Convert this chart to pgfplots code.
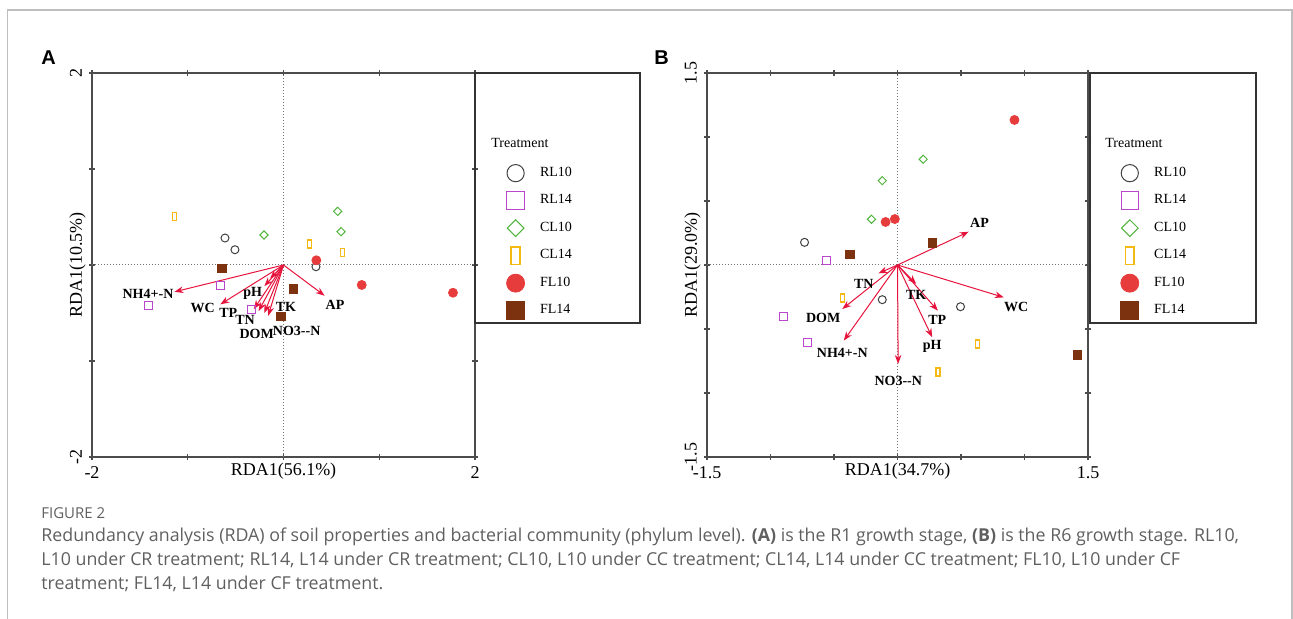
\documentclass[border=0pt]{standalone}
\usepackage{fontspec}
\setmainfont{Liberation Serif}
\newfontfamily\capfont{Open Sans}
\newfontfamily\panelfont{Liberation Sans}
\usepackage{pgfplots}
\pgfplotsset{compat=1.18}
\usetikzlibrary{arrows.meta}

\definecolor{crlten}{RGB}{64,64,64}
\definecolor{crlfour}{RGB}{185,70,205}
\definecolor{cclten}{RGB}{80,180,60}
\definecolor{cclfour}{RGB}{245,185,20}
\definecolor{cflten}{RGB}{230,60,60}
\definecolor{cflfour}{RGB}{125,50,15}
\definecolor{carrow}{RGB}{230,20,60}
\definecolor{capgray}{RGB}{95,95,95}
\definecolor{framegray}{RGB}{190,190,190}

\pgfdeclareplotmark{tallrect}{%
  \pgfpathrectangle{\pgfqpoint{-0.5\pgfplotmarksize}{-\pgfplotmarksize}}{\pgfqpoint{\pgfplotmarksize}{2\pgfplotmarksize}}%
  \pgfusepathqstroke}

\pgfplotsset{
  rdaaxis/.style={
    scale only axis, height=192pt, clip=false,
    axis line style={draw=black!70, line width=0.6pt},
    tick style={draw=black!70, line width=0.6pt},
    tick align=center, major tick length=3pt,
    ticklabel style={font=\fontsize{9}{10}\selectfont},
    label style={font=\fontsize{9}{10}\selectfont},
    xlabel style={at={(axis description cs:0.5,0)}, anchor=north, inner sep=3pt},
    ylabel style={at={(axis description cs:0,0.5)}, anchor=south, inner sep=3pt},
    yticklabel style={rotate=90, anchor=south},
    legend cell align=left,
    legend style={draw=none, fill=none, inner sep=0pt, row sep=0pt,
      font=\fontsize{7}{8}\selectfont,
      nodes={inner sep=0pt, minimum height=13.75pt},
      /tikz/every odd column/.append style={column sep=7.7pt}},
  },
  rlten/.style={only marks, mark=o, color=crlten, mark size=2pt, mark options={line width=0.5pt}, legend image post style={mark size=4.3pt}},
  rlfour/.style={only marks, mark=square, color=crlfour, mark size=2pt, mark options={line width=0.5pt}, legend image post style={mark size=4.4pt}},
  clten/.style={only marks, mark=square, color=cclten, mark size=1.45pt, mark options={line width=0.5pt, rotate=45}, legend image post style={mark size=2.95pt}},
  clfour/.style={only marks, mark=tallrect, color=cclfour, mark size=2pt, mark options={line width=0.75pt}, legend image post style={mark size=4.4pt}},
  flten/.style={only marks, mark=*, color=cflten, mark size=2.25pt, mark options={draw=cflten, fill=cflten}, legend image post style={mark size=4.5pt}},
  flfour/.style={only marks, mark=square*, color=cflfour, mark size=2.1pt, mark options={draw=cflfour, fill=cflfour}, legend image post style={mark size=4.5pt}},
  arrowplot/.style={forget plot, carrow, line width=0.5pt, -{Stealth[length=4.5pt, width=3.3pt]}, quiver={u=\thisrow{u}, v=\thisrow{v}}},
  labelplot/.style={forget plot, only marks, mark=none, nodes near coords, point meta=explicit symbolic,
    nodes near coords align={center},
    every node near coord/.append style={font=\bfseries\fontsize{7}{8}\selectfont, anchor=center, inner sep=0pt, text=black}},
}

\begin{document}
\begin{tikzpicture}
\useasboundingbox (0,0) rectangle (646.5pt,309.5pt);
% outer frame
\draw[framegray, line width=0.8pt] (3.75pt,0pt) -- (3.75pt,304.5pt) -- (646pt,304.5pt) -- (646pt,0pt);
% panel letters
\node[anchor=base west, inner sep=0pt, font=\panelfont\bfseries\fontsize{10}{12}\selectfont] at (20.5pt,277pt) {A};
\node[anchor=base west, inner sep=0pt, font=\panelfont\bfseries\fontsize{10}{12}\selectfont] at (327pt,277pt) {B};

% ---------------- Panel A ----------------
\begin{axis}[rdaaxis, at={(46pt,81pt)}, anchor=south west, width=191.5pt,
  xmin=-2, xmax=2, ymin=-2, ymax=2,
  xtick={-2,-1,0,1,2}, xticklabels={-2,,,,2},
  ytick={-2,-1,0,1,2}, yticklabels={-2,,,,2},
  xlabel={RDA1(56.1\%)}, ylabel={RDA1(10.5\%)},
  legend style={at={(axis description cs:1.0815,0.776)}, anchor=north west}]
\draw[densely dotted, black!55, line width=0.5pt] (axis cs:0,-2) -- (axis cs:0,2);
\draw[densely dotted, black!55, line width=0.5pt] (axis cs:-2,0) -- (axis cs:2,0);
\addplot[arrowplot] table {
x y u v
0 0 -1.14 -0.28
0 0 -0.66 -0.41
0 0 -0.14 -0.14
0 0 -0.20 -0.22
0 0 -0.31 -0.46
0 0 -0.26 -0.48
0 0 -0.20 -0.50
0 0 -0.16 -0.53
0 0 0.43 -0.32
};
\addplot[labelplot] coordinates {
(-1.415,-0.302) [NH4+-N]
(-0.844,-0.451) [WC]
(-0.322,-0.295) [pH]
(-0.577,-0.500) [TP]
(-0.402,-0.570) [TN]
(-0.280,-0.715) [DOM]
(0.138,-0.684) [NO3-{}-N]
(0.026,-0.434) [TK]
(0.538,-0.412) [AP]
};
\addplot[rlten] coordinates {(-0.611,0.281) (-0.507,0.159) (0.339,-0.018)};
\addlegendentry{RL10}
\addplot[rlfour] coordinates {(-1.415,-0.417) (-0.653,-0.216) (-0.339,-0.466)};
\addlegendentry{RL14}
\addplot[clten] coordinates {(-0.204,0.3125) (0.566,0.559) (0.601,0.347)};
\addlegendentry{CL10}
\addplot[clfour] coordinates {(-1.140,0.507) (0.274,0.219) (0.614,0.132)};
\addlegendentry{CL14}
\addplot[flten] coordinates {(0.343,0.049) (0.817,-0.208) (1.770,-0.289)};
\addlegendentry{FL10}
\addplot[flfour] coordinates {(-0.642,-0.034) (0.102,-0.25) (-0.026,-0.534)};
\addlegendentry{FL14}
\end{axis}
\draw[black!80, line width=1pt] (237.5pt,148pt) rectangle (320pt,273pt);
\node[anchor=west, inner sep=0pt, font=\fontsize{7}{8}\selectfont] at (245.5pt,237.8pt) {Treatment};

% ---------------- Panel B ----------------
\begin{axis}[rdaaxis, at={(353.5pt,81pt)}, anchor=south west, width=190.5pt,
  xmin=-1.5, xmax=1.5, ymin=-1.5, ymax=1.5,
  xtick={-1.5,-1,-0.5,0,0.5,1,1.5}, xticklabels={-1.5,,,,,,1.5},
  ytick={-1.5,-1,-0.5,0,0.5,1,1.5}, yticklabels={-1.5,,,,,,1.5},
  xlabel={RDA1(34.7\%)}, ylabel={RDA1(29.0\%)},
  legend style={at={(axis description cs:1.085,0.776)}, anchor=north west}]
\draw[densely dotted, black!55, line width=0.5pt] (axis cs:0,-1.5) -- (axis cs:0,1.5);
\draw[densely dotted, black!55, line width=0.5pt] (axis cs:-1.5,0) -- (axis cs:1.5,0);
\addplot[arrowplot] table {
x y u v
0 0 0.561 0.260
0 0 0.837 -0.253
0 0 -0.150 -0.065
0 0 -0.435 -0.344
0 0 -0.423 -0.591
0 0 0.005 -0.773
0 0 0.147 -0.148
0 0 0.318 -0.357
0 0 0.273 -0.565
};
\addplot[labelplot] coordinates {
(0.646,0.328) [AP]
(0.935,-0.326) [WC]
(-0.265,-0.148) [TN]
(-0.585,-0.414) [DOM]
(-0.435,-0.6875) [NH4+-N]
(0.006,-0.909) [NO3-{}-N]
(0.147,-0.232) [TK]
(0.313,-0.427) [TP]
(0.273,-0.638) [pH]
};
\addplot[rlten] coordinates {(-0.732,0.177) (-0.120,-0.271) (0.496,-0.326)};
\addlegendentry{RL10}
\addplot[rlfour] coordinates {(-0.559,0.037) (-0.900,-0.401) (-0.711,-0.609)};
\addlegendentry{RL14}
\addplot[clten] coordinates {(0.202,0.826) (-0.120,0.659) (-0.205,0.357)};
\addlegendentry{CL10}
\addplot[clfour] coordinates {(-0.435,-0.258) (0.628,-0.617) (0.320,-0.836)};
\addlegendentry{CL14}
\addplot[flten] coordinates {(-0.094,0.336) (-0.021,0.359) (0.921,1.133)};
\addlegendentry{FL10}
\addplot[flfour] coordinates {(-0.376,0.084) (0.273,0.172) (1.417,-0.703)};
\addlegendentry{FL14}
\end{axis}
\draw[black!80, line width=1pt] (545pt,148pt) rectangle (628pt,273pt);
\node[anchor=west, inner sep=0pt, font=\fontsize{7}{8}\selectfont] at (552.5pt,237.8pt) {Treatment};

% ---------------- Caption ----------------
\begin{scope}[every node/.style={anchor=base west, inner sep=0pt, text=capgray, font=\capfont\fontsize{8.9}{11}\selectfont}]
\node[font=\capfont\fontsize{7.5}{9}\selectfont] at (20.5pt,50pt) {FIGURE 2};
\node at (20.5pt,38.5pt) {Redundancy analysis (RDA) of soil properties and bacterial community (phylum level). {\bfseries (A)} is the R1 growth stage, {\bfseries (B)} is the R6 growth stage. RL10,};
\node at (20.5pt,26.5pt) {L10 under CR treatment; RL14, L14 under CR treatment; CL10, L10 under CC treatment; CL14, L14 under CC treatment; FL10, L10 under CF};
\node at (20.5pt,14.5pt) {treatment; FL14, L14 under CF treatment.};
\end{scope}
\end{tikzpicture}
\end{document}
